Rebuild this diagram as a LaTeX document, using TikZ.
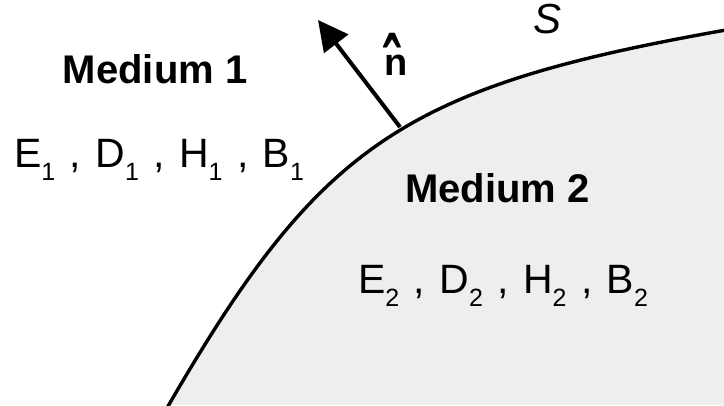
\documentclass[tikz,border=0pt]{standalone}
\usepackage{fontspec}
\usepackage{graphicx}
\setmainfont{Liberation Sans}
\usetikzlibrary{arrows.meta}
\definecolor{medtwo}{RGB}{238,238,238}
\newcommand{\lowsub}[1]{\raisebox{-13pt}{\fontsize{25}{25}\selectfont #1}}
\newcommand{\sep}{\hspace{3pt} ,\hspace{3pt} }
\tikzset{
  lbl/.style={inner sep=0pt, outer sep=0pt, anchor=base west},
  medfont/.style={font=\fontsize{40}{48}\selectfont\bfseries},
  fieldfont/.style={font=\fontsize{41}{48}\selectfont},
  normalarrow/.style={line width=4pt, -{Triangle[length=30pt,width=30pt]}}
}
\begin{document}
\begin{tikzpicture}[x=1pt,y=-1pt]
\useasboundingbox (0,0) rectangle (724,405);
\fill[white] (0,0) rectangle (724,405);
% medium 2 region bounded by surface S
\path[fill=medtwo] (167,405) .. controls (320,143) and (404,87) .. (724,30) -- (724,405) -- cycle;
\draw[line width=3.4pt] (167,408) .. controls (320,143) and (404,87) .. (726,30);
% normal vector
\coordinate (foot) at (400,127);
\coordinate (tip) at (318,20);
\draw[normalarrow] (foot) -- (tip);
\node[lbl, font=\fontsize{38}{44}\selectfont\bfseries] (n) at (384,75)
  {\rlap{\hspace{-1pt}\raisebox{-23pt}{\scalebox{1.3}[2.3]{ˆ}}}n};
\node[lbl, font=\fontsize{42}{48}\selectfont\itshape] (S) at (533,33) {S};
% labels
\node[lbl, medfont] (m1) at (63,83) {Medium 1};
\node[lbl, fieldfont] (f1) at (14,167) {E\lowsub{1}\sep D\lowsub{1}\sep H\lowsub{1}\sep B\lowsub{1}};
\node[lbl, medfont] (m2) at (405,202) {Medium 2};
\node[lbl, fieldfont] (f2) at (358,293) {E\lowsub{2}\sep D\lowsub{2}\sep H\lowsub{2}\sep B\lowsub{2}};
\end{tikzpicture}
\end{document}
